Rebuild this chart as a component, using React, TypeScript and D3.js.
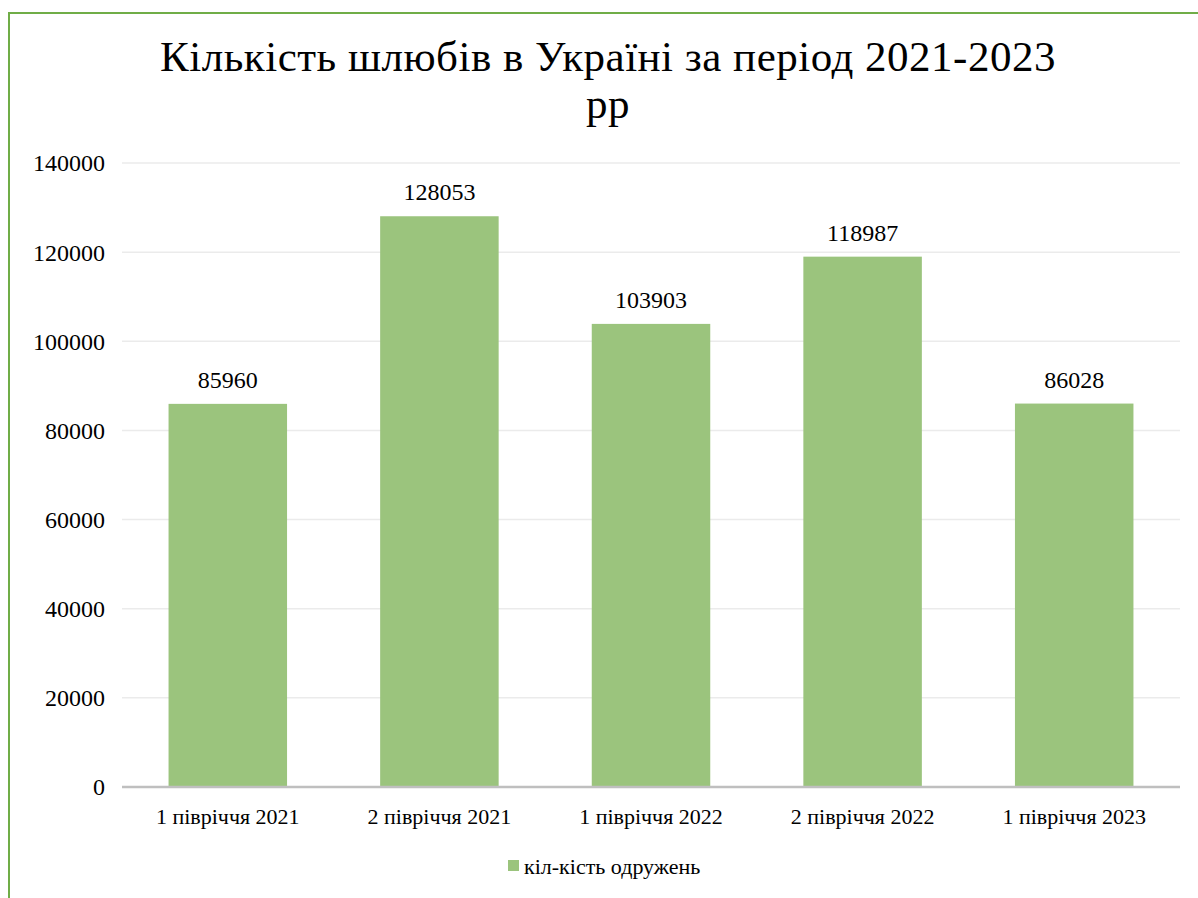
import { useEffect } from "react";
import * as d3 from "d3";

const categories = ["1 півріччя 2021", "2 півріччя 2021", "1 півріччя 2022", "2 півріччя 2022", "1 півріччя 2023"];
const marriages = [85960, 128053, 103903, 118987, 86028];
const yTicks = [0, 20000, 40000, 60000, 80000, 100000, 120000, 140000];
const titleLines = ["Кількість шлюбів в Україні за період 2021-2023", "рр"];
const seriesName = "кіл-кість одружень";

const W = 1198;
const H = 898;
const BAR = "#9bc47d";

export default function App() {
  useEffect(() => {
    document.body.style.margin = "0";
  }, []);

  const x = d3.scaleBand<string>().domain(categories).range([122, 1180]).paddingInner(0.44).paddingOuter(0.22);
  const y = d3.scaleLinear().domain([0, 140000]).range([787, 163]);

  return (
    <svg width={W} height={H} className="chart" style={{ display: "block", background: "#fff" }}>
      <style>{`.chart text { font-family: 'Liberation Serif' !important; }`}</style>
      {/* chart frame: only left and top edges visible */}
      <line x1={9} x2={9} y1={12} y2={H} stroke="#70ad47" strokeWidth={2} />
      <line x1={8} x2={W} y1={13} y2={13} stroke="#70ad47" strokeWidth={2} />

      {titleLines.map((t, i) => (
        <text key={t} x={608} y={71 + i * 47} textAnchor="middle" fontSize={43} fill="#000" letterSpacing={0.5}>
          {t}
        </text>
      ))}

      {yTicks.map((t) => (
        <g key={t}>
          {t > 0 && <line x1={122} x2={1180} y1={y(t)} y2={y(t)} stroke="#ebebeb" strokeWidth={1.5} />}
          <text x={105} y={y(t)} dy="0.35em" textAnchor="end" fontSize={24} fill="#000">
            {t}
          </text>
        </g>
      ))}

      {categories.map((c, i) => (
        <g key={c}>
          <rect x={x(c)} y={y(marriages[i])} width={x.bandwidth()} height={y(0) - y(marriages[i])} fill={BAR} />
          <text x={(x(c) ?? 0) + x.bandwidth() / 2} y={y(marriages[i]) - 16} textAnchor="middle" fontSize={24} fill="#000">
            {marriages[i]}
          </text>
          <text x={(x(c) ?? 0) + x.bandwidth() / 2} y={824} textAnchor="middle" fontSize={22} fill="#000">
            {c}
          </text>
        </g>
      ))}

      <line x1={122} x2={1180} y1={y(0)} y2={y(0)} stroke="#bfbfbf" strokeWidth={2.5} />

      <rect x={508} y={860} width={11} height={11} fill={BAR} />
      <text x={524} y={874} fontSize={22} fill="#000">
        {seriesName}
      </text>
    </svg>
  );
}
